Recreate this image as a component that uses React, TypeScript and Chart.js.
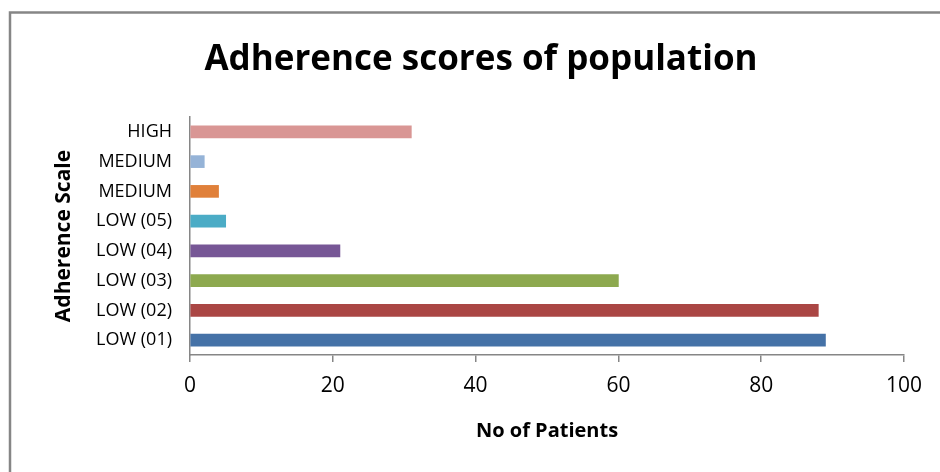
import React, { useEffect, useRef } from "react";
import { Chart, registerables } from "chart.js";

Chart.register(...registerables);

const categories = ["HIGH", "MEDIUM", "MEDIUM", "LOW (05)", "LOW (04)", "LOW (03)", "LOW (02)", "LOW (01)"];
const patients = [31, 2, 4, 5, 21, 60, 88, 89];
const barColors = ["#D99694", "#95B3D7", "#E0803A", "#4BACC6", "#775796", "#8DA94F", "#AA4644", "#4572A7"];
const xTicks = [0, 20, 40, 60, 80, 100];
const chartTitle = "Adherence scores of population";
const xTitle = "No of Patients";
const yTitle = "Adherence Scale";

const FONT = "'Open Sans', 'DejaVu Sans', sans-serif";

const framePlugin = {
  id: "frame",
  beforeDraw(chart: any) {
    const ctx = chart.ctx;
    ctx.save();
    ctx.fillStyle = "#ffffff";
    ctx.fillRect(0, 0, chart.width, chart.height);
    ctx.strokeStyle = "#868686";
    ctx.lineWidth = 2.5;
    ctx.beginPath();
    ctx.moveTo(10, chart.height);
    ctx.lineTo(10, 12.5);
    ctx.lineTo(chart.width, 12.5);
    ctx.stroke();
    ctx.restore();
  },
  afterDraw(chart: any) {
    const ctx = chart.ctx;
    ctx.save();
    ctx.fillStyle = "#000000";
    ctx.font = `bold 35px ${FONT}`;
    ctx.textAlign = "center";
    ctx.textBaseline = "middle";
    ctx.fillText(chartTitle, 481, 60);
    ctx.restore();
  },
};

export default function App() {
  const ref = useRef<HTMLCanvasElement>(null);
  useEffect(() => {
    if (!ref.current) return;
    const chart = new Chart(ref.current, {
      type: "bar",
      data: {
        labels: categories,
        datasets: [
          {
            data: patients,
            backgroundColor: barColors,
            borderWidth: 0,
            barThickness: 12,
          },
        ],
      },
      plugins: [framePlugin],
      options: {
        indexAxis: "y",
        responsive: false,
        animation: false,
        layout: { padding: { left: 0, top: 117, right: 36, bottom: 0 } },
        plugins: {
          legend: { display: false },
          title: { display: false },
          tooltip: { enabled: false },
        },
        scales: {
          x: {
            type: "linear",
            min: 0,
            max: 100,
            afterBuildTicks(scale: any) {
              scale.ticks = xTicks.map((v) => ({ value: v }));
            },
            afterFit(scale: any) {
              scale.height = 117;
            },
            ticks: {
              color: "#000000",
              font: { family: FONT, size: 21 },
              padding: 11,
            },
            grid: {
              drawOnChartArea: false,
              drawTicks: true,
              tickLength: 7,
              color: "#868686",
              lineWidth: 1.5,
            },
            border: { display: true, color: "#868686", width: 1.5 },
            title: {
              display: true,
              text: xTitle,
              color: "#000000",
              font: { family: FONT, size: 20, weight: "bold" },
              padding: { top: 0, bottom: 29 },
            },
          },
          y: {
            type: "category",
            afterFit(scale: any) {
              scale.width = 190;
            },
            ticks: {
              color: "#000000",
              font: { family: FONT, size: 18 },
              padding: 18,
            },
            grid: { display: false, drawTicks: false },
            border: { display: true, color: "#868686", width: 1.5 },
            title: {
              display: true,
              text: yTitle,
              color: "#000000",
              font: { family: FONT, size: 21, weight: "bold" },
              padding: { top: 51, bottom: 0 },
            },
          },
        },
      },
    });
    return () => chart.destroy();
  }, []);
  return (
    <div style={{ position: "absolute", left: 0, top: 0, width: 940, height: 472 }}>
      <canvas ref={ref} width={940} height={472} style={{ display: "block" }} />
    </div>
  );
}
